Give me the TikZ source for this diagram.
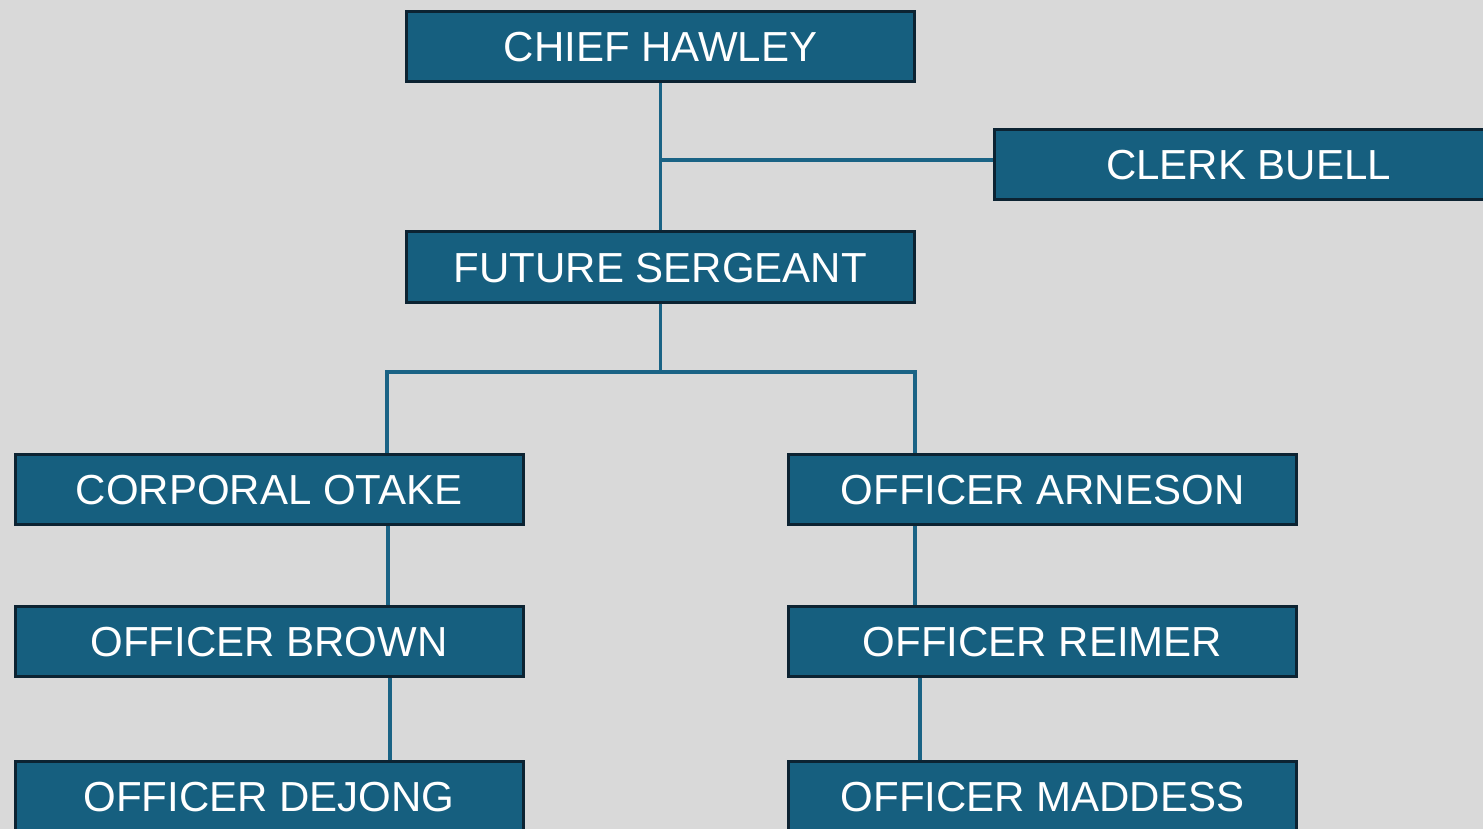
\documentclass[tikz,border=0pt]{standalone}
\usepackage{fontspec}
\setmainfont{Liberation Sans}
\definecolor{bgc}{HTML}{D9D9D9}
\definecolor{boxfill}{HTML}{165F7F}
\definecolor{boxline}{HTML}{0C2332}
\definecolor{conn}{HTML}{1A6385}
\tikzset{
  orgbox/.style={draw=boxline, fill=boxfill, line width=3pt, minimum width=508pt, minimum height=70pt,
    inner sep=0pt, text=white, font=\fontsize{42pt}{42pt}\selectfont, text height=30.5pt, text depth=0pt},
  link/.style={draw=conn, line width=3.2pt}
}
\begin{document}
\begin{tikzpicture}[x=1pt,y=-1pt]
\clip (0,0) rectangle (1483,829);
\fill[bgc] (0,0) rectangle (1483,829);
\node[orgbox] (chief) at (660.5,46.5) {CHIEF HAWLEY};
\node[orgbox] (clerk) at (1248.5,164.5) {CLERK BUELL};
\node[orgbox] (serg) at (660.5,267) {FUTURE SERGEANT};
\node[orgbox] (otake) at (269,489) {CORPORAL OTAKE};
\node[orgbox] (arneson) at (1042.5,489) {OFFICER ARNESON};
\node[orgbox] (brown) at (269,641.5) {OFFICER BROWN};
\node[orgbox] (reimer) at (1042.5,641.5) {OFFICER REIMER};
\node[orgbox] (dejong) at (269,796.5) {OFFICER DEJONG};
\node[orgbox] (maddess) at (1042.5,796.5) {OFFICER MADDESS};
\coordinate (j1) at (660.5,160);
\coordinate (j2) at (660.5,372);
\draw[link] (chief.south) -- (serg.north);
\draw[link] (j1) -- (j1 -| clerk.west);
\draw[link] (serg.south) -- (j2);
\draw[link] (j2) -| ([xshift=118pt]otake.north);
\draw[link] (j2) -| ([xshift=-127.5pt]arneson.north);
\draw[link] ([xshift=119pt]otake.south) -- ([xshift=119pt]brown.north);
\draw[link] ([xshift=121pt]brown.south) -- ([xshift=121pt]dejong.north);
\draw[link] ([xshift=-127.5pt]arneson.south) -- ([xshift=-127.5pt]reimer.north);
\draw[link] ([xshift=-122.5pt]reimer.south) -- ([xshift=-122.5pt]maddess.north);
\end{tikzpicture}
\end{document}
